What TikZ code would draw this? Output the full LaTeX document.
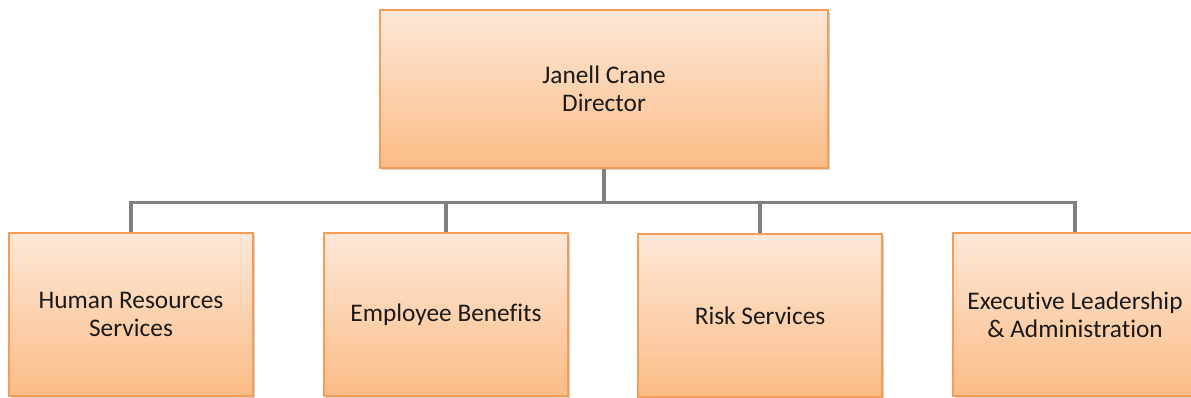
\documentclass[tikz,border=0pt]{standalone}
\usepackage{fontspec}
\setmainfont[Ligatures=NoCommon]{Carlito}
\usetikzlibrary{shadows}
\definecolor{boxline}{HTML}{F59D56}
\definecolor{boxtop}{HTML}{FDE8D8}
\definecolor{boxbot}{HTML}{FBBC86}
\definecolor{linkgray}{HTML}{808080}
\definecolor{txt}{HTML}{1A1A1A}
\tikzset{
  orgbox/.style={draw=boxline,line width=1.1pt,top color=boxtop,bottom color=boxbot,
    align=center,text=txt,font=\fontsize{19}{21}\selectfont,inner sep=0pt,
    drop shadow={opacity=0.35,shadow xshift=1.5pt,shadow yshift=-1.5pt}},
  unit/.style={orgbox,minimum width=183pt,minimum height=122pt},
  link/.style={draw=linkgray,line width=2.3pt}
}
\begin{document}
\begin{tikzpicture}[x=0.75pt,y=-0.75pt]
  \useasboundingbox (0,0) rectangle (1191,398);
  \clip (0,0) rectangle (1191,398);
  \fill[white] (0,0) rectangle (1191,398);
  \node[orgbox,minimum width=336pt,minimum height=118.5pt] (dir) at (604,89) {Janell Crane\\Director};
  \node[unit] (hr) at (131,314.5) {Human Resources\\Services};
  \node[unit] (eb) at (446,314.5) {Employee Benefits};
  \node[unit] (rs) at (760,315.5) {Risk Services};
  \node[unit] (ea) at (1075,314.5) {Executive Leadership\\\& Administration};
  \coordinate (bus) at (604,202.5);
  \foreach \n in {hr,eb,rs,ea}
    \draw[link] (dir.south) -- (bus) -| (\n.north);
\end{tikzpicture}
\end{document}
